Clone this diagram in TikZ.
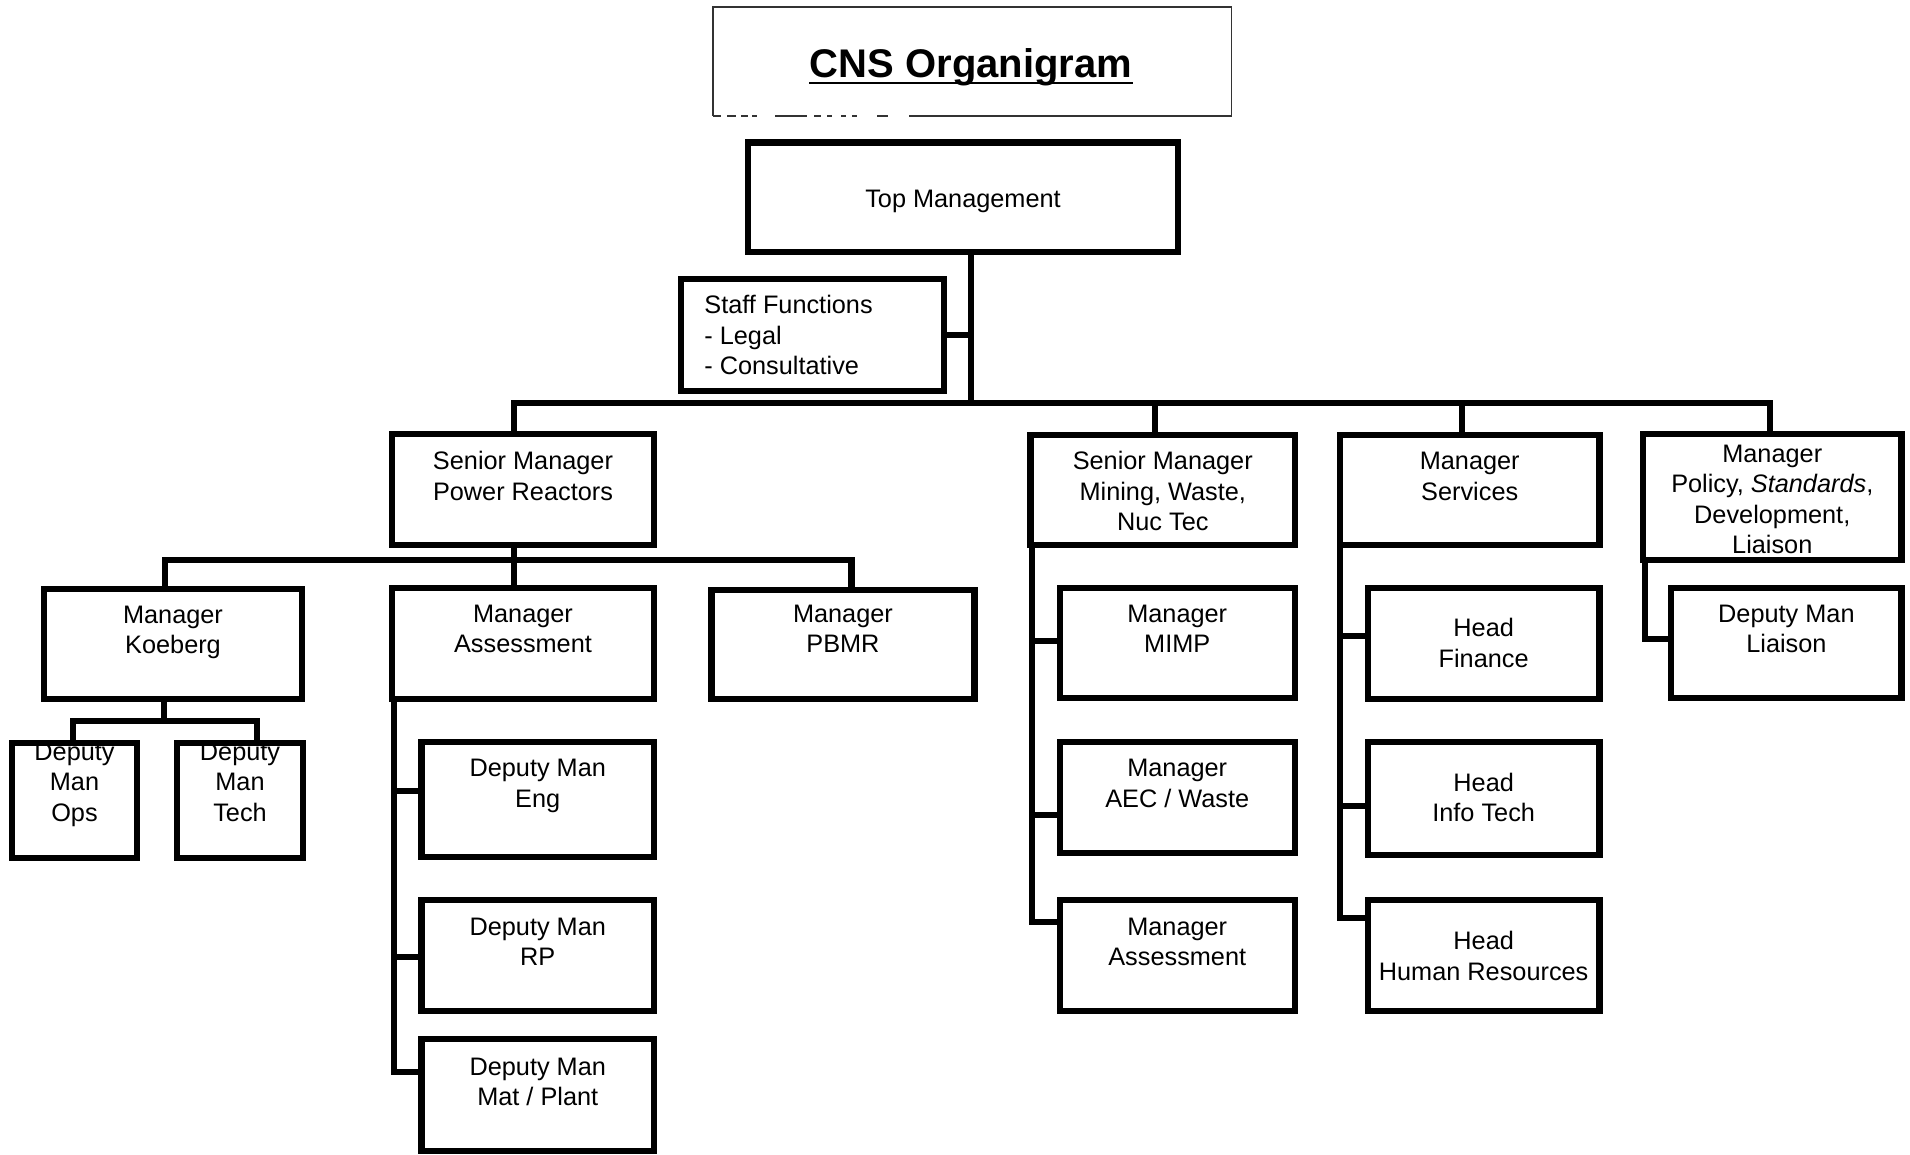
\documentclass[tikz,border=0pt]{standalone}
\usepackage{fontspec}
\setmainfont{Liberation Sans}
\tikzset{
  obx/.style={draw, line width=3.1pt, inner sep=0pt, outer sep=0pt, fill=white},
  otx/.style={font=\fontsize{12.65}{15.25}\selectfont, align=center, inner sep=0pt},
  conn/.style={line width=3.1pt, line cap=rect},
}
% name, x1, y1, x2, y2, first-line centre y, text
\newcommand\obox[7]{%
  \node[obx, minimum width={(#4-#2)*0.5pt}, minimum height={(#5-#3)*0.5pt}] (#1) at ({(#2+#4)/2},{(#3+#5)/2}) {};
  \node[otx, anchor=north] (#1t) at ({(#2+#4)/2},{#6-12.35}) {\strut #7};
}
\begin{document}
\begin{tikzpicture}[x=0.5pt,y=-0.5pt]
\fill[white] (0,0) rectangle (1910,1155);
\useasboundingbox (0,0) rectangle (1910,1155);

% title
\node[minimum width={(1231.5-712.6)*0.5pt}, minimum height={(115.7-7.3)*0.5pt}, inner sep=0pt, outer sep=0pt] (title) at ({(712.6+1231.5)/2},{(7.3+115.7)/2}) {};
\draw[line width=0.9pt, black!80] (title.south west) -- (title.north west) -- (title.north east) -- (title.south east);
\draw[line width=0.9pt, black!80]
  (712.6,115.7) -- (721,115.7) (727,115.7) -- (736,115.7) (741,115.7) -- (748,115.7) (752,115.7) -- (757,115.7)
  (775,115.7) -- (807,115.7) (814,115.7) -- (821,115.7) (827,115.7) -- (832,115.7) (841,115.7) -- (846,115.7)
  (852,115.7) -- (857,115.7) (877,115.7) -- (888,115.7) (909,115.7) -- (1231.5,115.7);
\node[font=\fontsize{20}{24}\selectfont\bfseries, anchor=base, inner sep=0pt] (tt) at (971,78) {CNS Organigram};
\draw[line width=1.3pt] ([yshift=-2.6pt]tt.base west) -- ([yshift=-2.6pt]tt.base east);

% boxes
\obox{top}{748}{142.5}{1178}{252}{198.6}{Top Management}
\node[obx, minimum width={(944-681)*0.5pt}, minimum height={(391-279)*0.5pt}] (staff) at ({(681+944)/2},{(279+391)/2}) {};
\node[otx, align=left, anchor=north west] (stafft) at (704,{304.5-12.35}) {\strut Staff Functions\\- Legal\\- Consultative};

\obox{sm1}{392}{434}{654}{545}{460.4}{Senior Manager\\Power Reactors}
\obox{sm2}{1030.5}{435}{1295}{545}{460.4}{Senior Manager\\Mining, Waste,\\Nuc Tec}
\obox{sm3}{1340}{435}{1599.4}{545}{460.4}{Manager\\Services}
\obox{sm4}{1643}{434}{1901.5}{560}{453}{Manager\\Policy, \textit{Standards},\\Development,\\Liaison}

\obox{koe}{44}{589}{302}{699}{614}{Manager\\Koeberg}
\obox{as1}{392}{588}{654}{699}{612.7}{Manager\\Assessment}
\obox{pbmr}{711.4}{589.6}{974.5}{699.2}{612.7}{Manager\\PBMR}

\obox{ops}{12}{743}{137}{858}{751}{Deputy\\Man\\Ops}
\obox{tech}{177}{743}{303}{858}{751}{Deputy\\Man\\Tech}
% the top edges of these two boxes cover the first text line, as in the original
\draw[line width=3.1pt, line cap=rect] (ops.north west) -- (ops.north east);
\draw[line width=3.1pt, line cap=rect] (tech.north west) -- (tech.north east);

\obox{eng}{421.5}{742}{654}{857}{767.4}{Deputy Man\\Eng}
\obox{rp}{421.5}{900}{654}{1011}{925.8}{Deputy Man\\RP}
\obox{mat}{421.5}{1039}{654}{1151}{1066}{Deputy Man\\Mat / Plant}

\obox{mimp}{1059.7}{588.3}{1294.8}{698}{612.7}{Manager\\MIMP}
\obox{aec}{1059.7}{741.8}{1294.8}{852.7}{767.4}{Manager\\AEC / Waste}
\obox{mas}{1059.7}{900.2}{1294.8}{1011}{925.8}{Manager\\Assessment}

\obox{fin}{1367.9}{588.3}{1599.4}{699.2}{627.3}{Head\\Finance}
\obox{it}{1367.9}{741.8}{1599.4}{855.1}{782}{Head\\Info Tech}
\obox{hr}{1367.9}{900.2}{1599.4}{1011}{940.4}{Head\\Human Resources}

\obox{lia}{1671.3}{588.3}{1901.5}{698}{612.7}{Deputy Man\\Liaison}

% connectors
\coordinate (tj) at (970.8,403.2);
\coordinate (b1) at (514,403.2);
\coordinate (b2) at (1154.8,403.2);
\coordinate (b3) at (1461.7,403.2);
\coordinate (b4) at (1770,403.2);
\draw[conn] (tj |- top.south) -- (tj);
\draw[conn] (staff.east) -- (staff.east -| tj);
\draw[conn] (b1) -- (b4);
\draw[conn] (b1) -- (b1 |- sm1.north);
\draw[conn] (b2) -- (b2 |- sm2.north);
\draw[conn] (b3) -- (b3 |- sm3.north);
\draw[conn] (b4) -- (b4 |- sm4.north);

\coordinate (p0) at (514,560.3);
\coordinate (pk) at (165,560.3);
\coordinate (pb) at (851.5,560.3);
\draw[conn] (p0 |- sm1.south) -- (p0 |- as1.north);
\draw[conn] (pk) -- (pb);
\draw[conn] (pk) -- (pk |- koe.north);
\draw[conn] (pb) -- (pb |- pbmr.north);

\coordinate (kj) at (164,721);
\coordinate (ko) at (73,721);
\coordinate (kt) at (257,721);
\draw[conn] (kj |- koe.south) -- (kj);
\draw[conn] (ops.north -| ko) -- (ko) -- (kt) -- (kt |- tech.north);

\coordinate (a1) at (394,791);
\coordinate (a2) at (394,957);
\coordinate (a3) at (394,1072);
\draw[conn] (a1 |- as1.south) -- (a3) -- (a3 -| mat.west);
\draw[conn] (a1) -- (a1 -| eng.west);
\draw[conn] (a2) -- (a2 -| rp.west);

\coordinate (m1) at (1032,641);
\coordinate (m2) at (1032,815);
\coordinate (m3) at (1032,922);
\draw[conn] (m1 |- sm2.south) -- (m3) -- (m3 -| mas.west);
\draw[conn] (m1) -- (m1 -| mimp.west);
\draw[conn] (m2) -- (m2 -| aec.west);

\coordinate (s1) at (1340,636);
\coordinate (s2) at (1340,806);
\coordinate (s3) at (1340,918);
\draw[conn] (s1 |- sm3.south) -- (s3) -- (s3 -| hr.west);
\draw[conn] (s1) -- (s1 -| fin.west);
\draw[conn] (s2) -- (s2 -| it.west);

\coordinate (l1) at (1645,639);
\draw[conn] (l1 |- sm4.south) -- (l1) -- (l1 -| lia.west);
\end{tikzpicture}
\end{document}
